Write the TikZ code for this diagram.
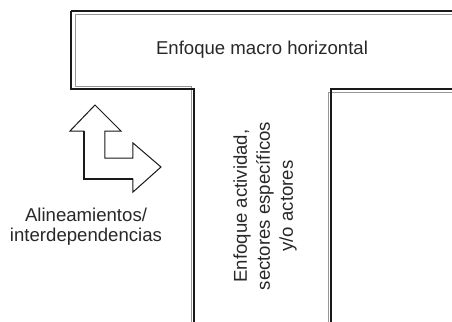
\documentclass[tikz,border=0pt]{standalone}
\usepackage{fontspec}
\setmainfont{Liberation Sans}
\usepackage{tikz}
\usetikzlibrary{positioning}
\definecolor{edge}{RGB}{25,25,25}
\definecolor{shade}{RGB}{150,150,150}
\definecolor{ink}{RGB}{40,40,40}
\tikzset{
    wall/.style={draw=edge, line width=1.2pt, line join=miter},
    thinwall/.style={draw=edge, line width=0.8pt},
    wallshade/.style={draw=shade, line width=0.4pt},
    label/.style={align=center, text=ink, font=\fontsize{9.3}{10}\selectfont},
    turnarrow/.style={draw=edge, line width=0.5pt, fill=white, line join=miter}
}

\begin{document}
\begin{tikzpicture}[x=0.5pt, y=-0.5pt]
    \useasboundingbox (0,0) rectangle (452,322);

    % T outline, left part
    \draw[wallshade] (452,14) -- (75,14) -- (75,86) -- (191,86) -- (191,322);
    \draw[thinwall] (452,11) -- (71,11);
    \draw[wall] (71,10.6) -- (71,89) -- (194,89) -- (194,322);

    % T outline, right part
    \draw[wallshade] (452,92) -- (328,92) -- (328,322);
    \draw[wall] (452,89) -- (331,89) -- (331,322);

    % Horizontal bar
    \node[label] (macro) at (262,50) {Enfoque macro horizontal};

    % Vertical stem
    \node[label, rotate=90, font=\fontsize{9.3}{11.5}\selectfont] (sector) at (265,206) {Enfoque actividad,\\sectores específicos\\y/o actores};

    % Turning arrow
    \draw[turnarrow] (95,105) -- (121,131) -- (105,131) -- (105,158) -- (133,158) -- (133,143) -- (161,167) -- (133,192) -- (133,179) -- (84,179) -- (84,131) -- (70,131) -- cycle;
    \draw[wall] (84,131) -- (84,179) -- (133,179);
    \node[label] (alin) at (86,227) {Alineamientos/\\interdependencias};
\end{tikzpicture}
\end{document}
